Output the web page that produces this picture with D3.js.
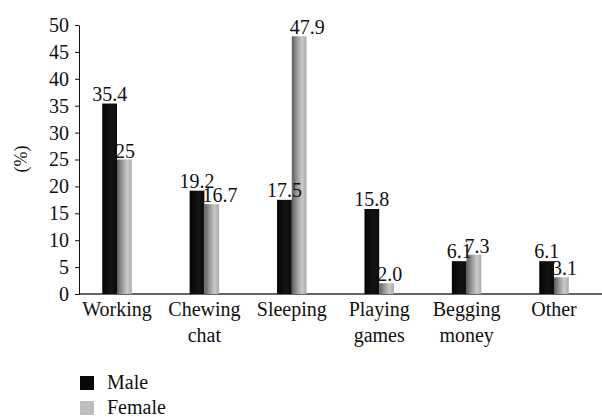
<!DOCTYPE html>
<html>
  <head>
    <meta charset="utf-8">
    <script src="https://cdn.jsdelivr.net/npm/d3@7/dist/d3.min.js"></script>
    <style>
      body { margin: 0; background: white; }
      svg { display: block; }
      text { font-family: "Liberation Serif", "Times New Roman", serif; font-size: 20px; fill: #111; }
      .axis path, .axis line { stroke: #111; }
    </style>
  </head>
  <body>
    <script>
      var categories = [["Working"], ["Chewing", "chat"], ["Sleeping"], ["Playing", "games"], ["Begging", "money"], ["Other"]];
      var series = ["Male", "Female"];
      var male = [35.4, 19.2, 17.5, 15.8, 6.1, 6.1];
      var female = [25, 16.7, 47.9, 2.0, 7.3, 3.1];
      var maleLabels = ["35.4", "19.2", "17.5", "15.8", "6.1", "6.1"];
      var femaleLabels = ["25", "16.7", "47.9", "2.0", "7.3", "3.1"];
      var yTicks = [0, 5, 10, 15, 20, 25, 30, 35, 40, 45, 50];

      var W = 602, H = 417;
      var x0 = 79, x1 = 602, yTop = 25, yBase = 294;

      var svg = d3.select("body").append("svg")
          .attr("width", W)
          .attr("height", H);

      var defs = svg.append("defs");
      var gm = defs.append("linearGradient").attr("id", "gMale");
      gm.append("stop").attr("offset", "0%").attr("stop-color", "#050505");
      gm.append("stop").attr("offset", "60%").attr("stop-color", "#141414");
      gm.append("stop").attr("offset", "100%").attr("stop-color", "#0c0c0c");
      var gf = defs.append("linearGradient").attr("id", "gFemale");
      gf.append("stop").attr("offset", "0%").attr("stop-color", "#5c5c5c");
      gf.append("stop").attr("offset", "35%").attr("stop-color", "#999");
      gf.append("stop").attr("offset", "70%").attr("stop-color", "#cacaca");
      gf.append("stop").attr("offset", "100%").attr("stop-color", "#aaa");

      var idx = d3.range(categories.length);
      var x = d3.scaleBand().domain(idx).range([73.3, 597.7]);
      var sub = d3.scaleBand().domain(series).range([0, 29.5]);
      var y = d3.scaleLinear().domain([0, 50]).range([yBase, yTop]);

      // bottom floor line
      svg.append("rect")
          .attr("x", x0).attr("y", yBase - 1)
          .attr("width", x1 - x0).attr("height", 2)
          .style("fill", "#666");

      // bars
      var groups = svg.selectAll(".grp")
          .data(idx)
        .enter().append("g")
          .attr("class", "grp")
          .attr("transform", function(i) { return "translate(" + (x(i) + x.bandwidth() / 2 - 14.75) + ",0)"; });

      groups.append("rect")
          .attr("x", sub("Male"))
          .attr("y", function(i) { return y(male[i]); })
          .attr("width", sub.bandwidth())
          .attr("height", function(i) { return yBase - y(male[i]); })
          .style("fill", "url(#gMale)");

      groups.append("rect")
          .attr("x", sub("Female"))
          .attr("y", function(i) { return y(female[i]); })
          .attr("width", sub.bandwidth())
          .attr("height", function(i) { return yBase - y(female[i]); })
          .style("fill", "url(#gFemale)");

      // value labels
      groups.append("text")
          .attr("x", sub("Male") + sub.bandwidth() / 2)
          .attr("y", function(i) { return y(male[i]) - 3; })
          .attr("text-anchor", "middle")
          .text(function(i) { return maleLabels[i]; });

      groups.append("text")
          .attr("x", sub("Female") - 2)
          .attr("y", function(i) { return y(female[i]) - 2; })
          .attr("text-anchor", "start")
          .text(function(i) { return femaleLabels[i]; });

      // y axis
      var yAxis = d3.axisLeft(y).tickValues(yTicks).tickSize(4).tickSizeOuter(0).tickPadding(6);
      svg.append("g")
          .attr("class", "axis")
          .attr("transform", "translate(" + x0 + ",0)")
          .call(yAxis)
          .call(function(g) {
            g.attr("font-family", null).attr("font-size", null);
            g.selectAll("text").style("font-size", "20px");
          });

      svg.append("text")
          .attr("transform", "translate(27,159) rotate(-90)")
          .attr("text-anchor", "middle")
          .style("font-size", "18px")
          .text("(%)");

      // category labels
      var cat = svg.selectAll(".cat")
          .data(idx)
        .enter().append("text")
          .attr("class", "cat")
          .attr("text-anchor", "middle")
          .attr("transform", function(i) { return "translate(" + (x(i) + x.bandwidth() / 2) + ",316)"; });
      cat.selectAll("tspan")
          .data(function(i) { return categories[i]; })
        .enter().append("tspan")
          .attr("x", 0)
          .attr("y", function(d, k) { return k * 26; })
          .text(function(d) { return d; });

      // legend
      var leg = svg.selectAll(".leg")
          .data(series)
        .enter().append("g")
          .attr("class", "leg")
          .attr("transform", function(d, k) { return "translate(80," + (376 + k * 25) + ")"; });
      leg.append("rect")
          .attr("width", 14).attr("height", 14)
          .style("fill", function(d) { return d === "Male" ? "#080808" : "#bdbdbd"; });
      leg.append("text")
          .attr("x", 27).attr("y", 13)
          .text(function(d) { return d; });
    </script>
  </body>
</html>
